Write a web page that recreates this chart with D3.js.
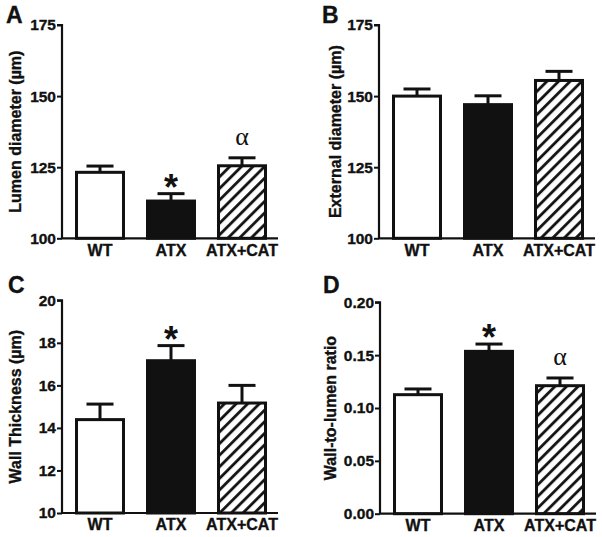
<!DOCTYPE html>
<html>
<head>
<meta charset="utf-8">
<script src="https://cdn.jsdelivr.net/npm/d3@7"></script>
<style>
  html, body { margin: 0; padding: 0; background: #fff; }
  svg { display: block; }
  text { font-family: "Liberation Sans", Arial, sans-serif; font-weight: bold; fill: #111; }
</style>
</head>
<body>
<svg id="chart" width="602" height="537"></svg>
<script>
// ---- data ----
const categories = ["WT", "ATX", "ATX+CAT"];

const lumenMean = [123.2, 113.1, 125.5];
const lumenErr  = [2.2, 2.6, 2.8];
const lumenMarks = ["", "*", "α"];

const externalMean = [150.0, 147.0, 155.5];
const externalErr  = [2.5, 3.1, 3.2];
const externalMarks = ["", "", ""];

const wallMean = [14.39, 17.16, 15.17];
const wallErr  = [0.73, 0.71, 0.83];
const wallMarks = ["", "*", ""];

const ratioMean = [0.1126, 0.1536, 0.1211];
const ratioErr  = [0.0054, 0.0069, 0.0073];
const ratioMarks = ["", "*", "α"];

const ticksDiameter = [100, 125, 150, 175];
const ticksWall = [10, 12, 14, 16, 18, 20];
const ticksRatio = [0.00, 0.05, 0.10, 0.15, 0.20];

// ---- layout ----
const panels = [
  { letter: "A", lx: 6, ly: 23, title: "Lumen diameter (µm)", tx: 15,
    x0: 62, yTop: 25, yBot: 238.3, domain: [100, 175], ticks: ticksDiameter, fmt: d3.format("d"),
    mean: lumenMean, err: lumenErr, marks: lumenMarks },
  { letter: "B", lx: 322, ly: 23, title: "External diameter (µm)", tx: 335,
    x0: 379, yTop: 25, yBot: 238.3, domain: [100, 175], ticks: ticksDiameter, fmt: d3.format("d"),
    mean: externalMean, err: externalErr, marks: externalMarks },
  { letter: "C", lx: 8, ly: 293, title: "Wall Thickness (µm)", tx: 15,
    x0: 62, yTop: 300.3, yBot: 513, domain: [10, 20], ticks: ticksWall, fmt: d3.format("d"),
    mean: wallMean, err: wallErr, marks: wallMarks },
  { letter: "D", lx: 323, ly: 293, title: "Wall-to-lumen ratio", tx: 330,
    x0: 380, yTop: 302.3, yBot: 513.7, domain: [0, 0.2], ticks: ticksRatio, fmt: d3.format(".2f"),
    mean: ratioMean, err: ratioErr, marks: ratioMarks }
];

const svg = d3.select("#chart");
const SANS = "'Liberation Sans', Arial, Helvetica, sans-serif";

// hatch pattern
const defs = svg.append("defs");
const pat = defs.append("pattern")
  .attr("id", "hatch")
  .attr("patternUnits", "userSpaceOnUse")
  .attr("width", 8.2).attr("height", 8.2)
  .attr("patternTransform", "rotate(45)");
pat.append("rect").attr("width", 8.2).attr("height", 8.2).attr("fill", "#fff");
pat.append("line").attr("x1", 1.5).attr("y1", 0).attr("x2", 1.5).attr("y2", 8.2)
  .attr("stroke", "#111").attr("stroke-width", 2.8);

const fills = ["#fff", "#111", "url(#hatch)"];

function heavy(sel) {
  return sel.style("font-family", SANS).style("font-weight", "bold")
    .attr("fill", "#111").attr("stroke", "#111").attr("stroke-width", 0.35);
}

panels.forEach(p => {
  const g = svg.append("g");
  const y = d3.scaleLinear().domain(p.domain).range([p.yBot, p.yTop]);
  const x = d3.scaleBand().domain(categories)
    .range([p.x0 + 2.5, p.x0 + 215.5])
    .paddingInner(0.296).paddingOuter(0.148);

  // panel letter
  heavy(g.append("text").attr("x", p.lx).attr("y", p.ly)
    .style("font-size", "23px").text(p.letter));

  // y title
  heavy(g.append("text")
    .attr("transform", `translate(${p.tx},${(p.yTop + p.yBot) / 2}) rotate(-90)`)
    .attr("text-anchor", "middle").attr("dy", "0.36em")
    .style("font-size", "16px").text(p.title));

  const data = categories.map((c, i) => ({ c, m: p.mean[i], e: p.err[i], mark: p.marks[i], fill: fills[i] }));

  // bars
  g.selectAll("rect.bar").data(data).enter().append("rect")
    .attr("class", "bar")
    .attr("x", d => x(d.c) + 1.5)
    .attr("y", d => y(d.m))
    .attr("width", x.bandwidth() - 3)
    .attr("height", d => y(p.domain[0]) - y(d.m))
    .attr("fill", d => d.fill)
    .attr("stroke", "#111").attr("stroke-width", 3);

  // error bars (upper only)
  const eb = g.selectAll("g.eb").data(data).enter().append("g").attr("class", "eb");
  eb.append("line")
    .attr("x1", d => x(d.c) + x.bandwidth() / 2).attr("x2", d => x(d.c) + x.bandwidth() / 2)
    .attr("y1", d => y(d.m)).attr("y2", d => y(d.m + d.e))
    .attr("stroke", "#111").attr("stroke-width", 3);
  eb.append("line")
    .attr("x1", d => x(d.c) + x.bandwidth() / 2 - 13.5).attr("x2", d => x(d.c) + x.bandwidth() / 2 + 13.5)
    .attr("y1", d => y(d.m + d.e)).attr("y2", d => y(d.m + d.e))
    .attr("stroke", "#111").attr("stroke-width", 3);

  // significance marks
  g.selectAll("text.mark").data(data.filter(d => d.mark)).enter().append("text")
    .attr("class", "mark")
    .attr("text-anchor", "middle")
    .attr("x", d => x(d.c) + x.bandwidth() / 2)
    .attr("y", d => d.mark === "*" ? y(d.m + d.e) - 9 + 0.42 * 36 : y(d.m + d.e) - 13)
    .style("font-size", d => d.mark === "*" ? "36px" : "26px")
    .style("font-family", d => d.mark === "*" ? SANS : "'Liberation Serif', 'Times New Roman', serif")
    .style("font-weight", d => d.mark === "*" ? "bold" : "normal")
    .text(d => d.mark);

  // y axis
  const yAxis = d3.axisLeft(y).tickValues(p.ticks).tickFormat(p.fmt).tickSize(5).tickPadding(1);
  const ya = g.append("g").attr("transform", `translate(${p.x0},0)`).call(yAxis);
  ya.attr("font-family", null).attr("font-size", null);
  ya.select(".domain").attr("d", `M-5,${p.yTop}H0V${p.yBot}`).attr("stroke", "#111").attr("stroke-width", 2.2);
  ya.selectAll(".tick line").attr("stroke", "#111").attr("stroke-width", 2);
  heavy(ya.selectAll(".tick text").style("font-size", "15.5px"));

  // x axis
  const xAxis = d3.axisBottom(x).tickSize(0).tickPadding(6);
  const xa = g.append("g").attr("transform", `translate(0,${p.yBot})`).call(xAxis);
  xa.attr("font-family", null).attr("font-size", null);
  xa.select(".domain").attr("d", `M${p.x0},0H${p.x0 + 216}`).attr("stroke", "#111").attr("stroke-width", 2.2);
  heavy(xa.selectAll(".tick text").style("font-size", "16px"));
});
</script>
</body>
</html>
